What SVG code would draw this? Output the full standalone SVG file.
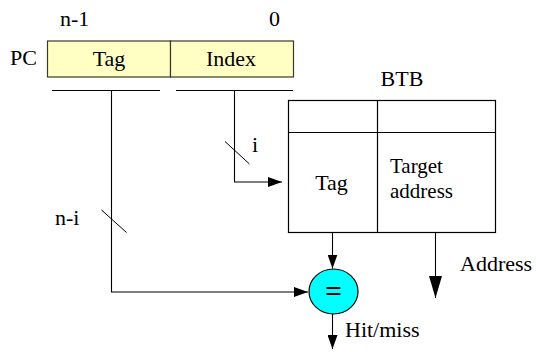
<svg xmlns="http://www.w3.org/2000/svg" width="536" height="352" viewBox="0 0 536 352">
  <defs>
    <marker id="arrow" markerWidth="14" markerHeight="10" refX="14" refY="5" orient="auto" markerUnits="userSpaceOnUse">
      <path d="M0,0 L14,5 L0,10 Z" fill="#000"/>
    </marker>
    <marker id="arrow-big" markerWidth="22" markerHeight="13" refX="22" refY="6.5" orient="auto" markerUnits="userSpaceOnUse">
      <path d="M0,0 L22,6.5 L0,13 Z" fill="#000"/>
    </marker>
  </defs>
  <style>
    text { font-size: 22px; fill: #000; }
    .reg { fill: #ffffc4; stroke: #3a3a2a; stroke-width: 1.2; }
    .cell { fill: #fff; stroke: #000; stroke-width: 1.2; }
    .wire { fill: none; stroke: #000; stroke-width: 1.1; }
    .bus { fill: none; stroke: #000; stroke-width: 1; }
  </style>
  <rect width="536" height="352" fill="#fff"/>

  <!-- program counter register -->
  <g id="pc">
    <text x="10" y="65" font-family="Liberation Serif">PC</text>
    <text x="60" y="26" font-family="Liberation Serif">n-1</text>
    <text x="269" y="26" font-family="Liberation Serif">0</text>
    <rect class="reg" x="47.5" y="41" width="123" height="36"/>
    <rect class="reg" x="170.5" y="41" width="123" height="36"/>
    <text x="109" y="66" text-anchor="middle" font-family="Liberation Serif">Tag</text>
    <text x="231" y="65.5" text-anchor="middle" font-family="Liberation Serif">Index</text>
    <line class="bus" x1="52" y1="90.5" x2="160" y2="90.5"/>
    <line class="bus" x1="176" y1="90.5" x2="293" y2="90.5"/>
  </g>

  <!-- branch target buffer -->
  <g id="btb">
    <text x="402" y="86" text-anchor="middle" font-family="Liberation Serif">BTB</text>
    <rect class="cell" x="288.5" y="100.5" width="207" height="132"/>
    <line class="cell" x1="288.5" y1="132.5" x2="495.5" y2="132.5"/>
    <line class="cell" x1="377.5" y1="100.5" x2="377.5" y2="232.5"/>
    <text x="331.5" y="190" text-anchor="middle" font-family="Liberation Serif">Tag</text>
    <text x="390" y="173" font-family="Liberation Serif" style="font-size:21px">Target</text>
    <text x="390" y="198" font-family="Liberation Serif" style="font-size:21px">address</text>
  </g>

  <!-- tag comparator -->
  <g id="compare">
    <ellipse cx="333.5" cy="291.5" rx="24.5" ry="22.5" fill="#00ffff" stroke="#000" stroke-width="1.2"/>
    <text x="333.5" y="301" text-anchor="middle" font-family="Liberation Serif" font-weight="bold" style="font-size:30px">=</text>
  </g>

  <!-- connectors -->
  <g id="connectors">
    <polyline class="wire" points="111.5,90.5 111.5,292 308,292" marker-end="url(#arrow)"/>
    <polyline class="wire" points="234.5,90.5 234.5,182 282,182" marker-end="url(#arrow)"/>
    <line class="wire" x1="332.5" y1="232.5" x2="332.5" y2="268.5" marker-end="url(#arrow)"/>
    <line class="wire" x1="435.5" y1="232.5" x2="435.5" y2="298" marker-end="url(#arrow-big)"/>
    <line class="wire" x1="332.5" y1="314" x2="332.5" y2="349" marker-end="url(#arrow)"/>
    <!-- bus-width slashes -->
    <line class="bus" x1="225" y1="141.5" x2="249.5" y2="164"/>
    <line class="bus" x1="101.5" y1="210" x2="126.5" y2="232.5"/>
    <text x="252" y="152" font-family="Liberation Serif">i</text>
    <text x="55" y="225" font-family="Liberation Serif">n-i</text>
    <text x="460" y="271" font-family="Liberation Serif">Address</text>
    <text x="345" y="337" font-family="Liberation Serif">Hit/miss</text>
  </g>
</svg>
